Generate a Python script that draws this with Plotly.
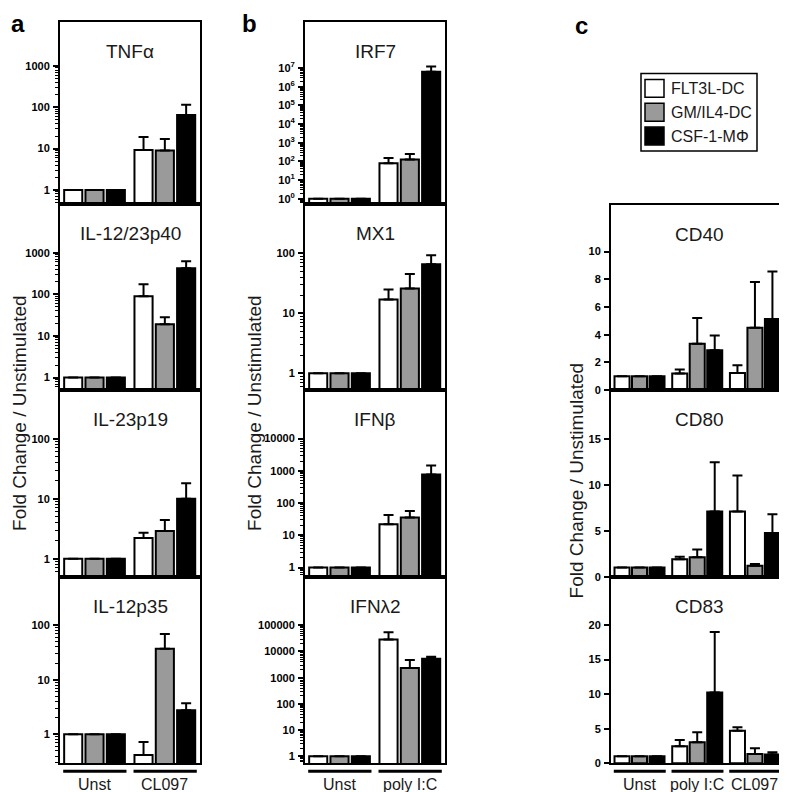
import math
import plotly.graph_objects as go

# ---------------- data ----------------
cell_types = ["FLT3L-DC", "GM/IL4-DC", "CSF-1-M\u03a6"]
cell_colors = ["white", "#9a9a9a", "black"]

groups_a = ["Unst", "CL097"]
groups_b = ["Unst", "poly I:C"]
groups_c = ["Unst", "poly I:C", "CL097"]

# bar positions (3 bars per group)
x_ab = [0, 1, 2, 3.3, 4.3, 5.3]
x_c = [0, 1, 2, 3.3, 4.3, 5.3, 6.6, 7.6, 8.6]

# panel a (mean, upper error-bar end)
tnfa_mean = [1, 1, 1, 9.3, 9.0, 65]
tnfa_upper = [1, 1, 1, 19, 17, 115]
il1223p40_mean = [1, 1, 1, 90, 19, 420]
il1223p40_upper = [1, 1, 1, 175, 28, 620]
il23p19_mean = [1, 1, 1, 2.2, 2.9, 10]
il23p19_upper = [1, 1, 1, 2.7, 4.4, 18]
il12p35_mean = [1, 1, 1, 0.42, 37, 2.75]
il12p35_upper = [1, 1, 1, 0.72, 69, 3.7]

# panel b
irf7_mean = [1, 1, 1, 80, 125, 6.2e6]
irf7_upper = [1, 1, 1, 150, 250, 1.2e7]
mx1_mean = [1, 1, 1, 17, 26, 66]
mx1_upper = [1, 1, 1, 25, 45, 93]
ifnb_mean = [1, 1, 1, 22, 36, 770]
ifnb_upper = [1, 1, 1, 43, 57, 1470]
ifnl2_mean = [1, 1, 1, 29000, 2350, 5300]
ifnl2_upper = [1, 1, 1, 54000, 4700, 6300]

# panel c
cd40_mean = [1, 1, 1, 1.2, 3.35, 2.87, 1.24, 4.5, 5.14]
cd40_upper = [1, 1, 1, 1.48, 5.2, 3.95, 1.8, 7.8, 8.56]
cd80_mean = [1, 1, 1, 1.9, 2.1, 7.1, 7.1, 1.19, 4.75]
cd80_upper = [1, 1, 1, 2.16, 2.95, 12.45, 11.0, 1.37, 6.8]
cd83_mean = [1, 1, 1, 2.45, 3.03, 10.24, 4.71, 1.35, 1.25]
cd83_upper = [1, 1, 1, 3.37, 4.47, 19.0, 5.19, 2.16, 1.59]

# tick labels
log_ticks_3 = [1, 10, 100, 1000]
log_ticks_2 = [1, 10, 100]
log_ticks_4 = [1, 10, 100, 1000, 10000]
log_ticks_5 = [1, 10, 100, 1000, 10000, 100000]
irf7_ticks = [10 ** k for k in range(8)]
irf7_ticktext = ["10<sup>%d</sup>" % k for k in range(8)]
cd40_ticks = [0, 2, 4, 6, 8, 10]
cd80_ticks = [0, 5, 10, 15]
cd83_ticks = [0, 5, 10, 15, 20]

# ---------------- layout helpers ----------------
W, H = 787, 792
FONT = "Liberation Sans, Arial, sans-serif"


def px_x(p):
    return p / W


def px_y(p):
    return 1 - p / H


col_a = (52, 192)
col_b = (297, 437)
col_c = (603, 780)
rows4 = [(14, 197), (197, 385), (385, 573), (573, 761)]
rows3 = [(198, 385), (385, 573), (573, 761)]

panels = [
    # title, xcol, row, xpos, mean, upper, type, range, tickvals, ticktext
    ("TNF\u03b1", col_a, rows4[0], x_ab, tnfa_mean, tnfa_upper, "log", [-0.33, 4.07], log_ticks_3, None),
    ("IL-12/23p40", col_a, rows4[1], x_ab, il1223p40_mean, il1223p40_upper, "log", [-0.30, 4.18], log_ticks_3, None),
    ("IL-23p19", col_a, rows4[2], x_ab, il23p19_mean, il23p19_upper, "log", [-0.30, 2.81], log_ticks_2, None),
    ("IL-12p35", col_a, rows4[3], x_ab, il12p35_mean, il12p35_upper, "log", [-0.53, 2.89], log_ticks_2, None),
    ("IRF7", col_b, rows4[0], x_ab, irf7_mean, irf7_upper, "log", [-0.26, 9.47], irf7_ticks, irf7_ticktext),
    ("MX1", col_b, rows4[1], x_ab, mx1_mean, mx1_upper, "log", [-0.28, 2.83], log_ticks_2, None),
    ("IFN\u03b2", col_b, rows4[2], x_ab, ifnb_mean, ifnb_upper, "log", [-0.28, 5.5], log_ticks_4, None),
    ("IFN\u03bb2", col_b, rows4[3], x_ab, ifnl2_mean, ifnl2_upper, "log", [-0.27, 6.86], log_ticks_5, None),
    ("CD40", col_c, rows3[0], x_c, cd40_mean, cd40_upper, "linear", [0, 13.4], cd40_ticks, None),
    ("CD80", col_c, rows3[1], x_c, cd80_mean, cd80_upper, "linear", [0, 20.3], cd80_ticks, None),
    ("CD83", col_c, rows3[2], x_c, cd83_mean, cd83_upper, "linear", [0, 27.0], cd83_ticks, None),
]

fig = go.Figure()
layout = dict(
    width=W, height=H,
    margin=dict(l=0, r=0, t=0, b=0),
    paper_bgcolor="white", plot_bgcolor="white",
    showlegend=False,
    font=dict(family=FONT, color="black"),
)
annotations = []
shapes = []

for i, (title, xcol, row, xpos, mean, upper, atype, yr, tv, tt) in enumerate(panels):
    n = i + 1
    xa = "xaxis" if n == 1 else "xaxis%d" % n
    ya = "yaxis" if n == 1 else "yaxis%d" % n
    xr = "x" if n == 1 else "x%d" % n
    yr_ = "y" if n == 1 else "y%d" % n
    ncol = len(xpos)
    colors = [cell_colors[k % 3] for k in range(ncol)]
    err = [u - m for u, m in zip(upper, mean)]
    bw = 0.85 if ncol == 6 else 0.86
    fig.add_trace(go.Bar(
        x=xpos, y=mean, width=bw,
        marker=dict(color=colors, line=dict(color="black", width=2)),
        error_y=dict(type="data", symmetric=False, array=err, arrayminus=[0] * ncol,
                     thickness=2, width=5, color="black"),
        xaxis=xr, yaxis=yr_, hoverinfo="skip",
    ))
    if ncol == 6:
        xrange = [-0.62, 5.95]
    else:
        xrange = [-0.63, 9.49]
    layout[xa] = dict(
        domain=[px_x(xcol[0]), px_x(xcol[1])], anchor=yr_, range=xrange,
        showline=True, mirror=True, linewidth=2, linecolor="black",
        showticklabels=False, ticks="", showgrid=False, zeroline=False,
    )
    yaxis = dict(
        domain=[px_y(row[1]), px_y(row[0])], anchor=xr, type=atype, range=yr,
        showline=True, mirror=True, linewidth=2, linecolor="black",
        showgrid=False, zeroline=False,
        ticks="outside", ticklen=5, tickwidth=1.5, tickcolor="black",
        tickmode="array",
        tickvals=tv, ticktext=tt if tt is not None else [str(v) for v in tv],
        tickfont=dict(family=FONT, size=11, color="black", weight="bold"),
        ticklabelstandoff=1,
    )
    if atype == "log":
        minor_vals = []
        lo = int(math.floor(yr[0]))
        top_major = max(tv)
        for d in range(lo, 12):
            for k in range(2, 10):
                v = k * 10.0 ** d
                if math.log10(v) > yr[0] and v < top_major:
                    minor_vals.append(v)
        yaxis["minor"] = dict(tickmode="array", tickvals=minor_vals, ticks="outside",
                              ticklen=3, tickwidth=1, tickcolor="black", showgrid=False)
    layout[ya] = yaxis
    # panel title
    xc = (xcol[0] + xcol[1]) / 2
    annotations.append(dict(
        x=px_x(xc), y=px_y(row[0] + 30), xref="paper", yref="paper",
        text=title, showarrow=False, xanchor="center", yanchor="middle",
        font=dict(family=FONT, size=19, color="#1a1a1a"),
    ))

# group lines and labels under bottom panels
bottom = [(4, x_ab, groups_a), (8, x_ab, groups_b), (11, x_c, groups_c)]
for n, xpos, groups in bottom:
    xr = "x%d" % n
    for g, name in enumerate(groups):
        xs = xpos[3 * g: 3 * g + 3]
        shapes.append(dict(type="line", xref=xr, yref="paper",
                           x0=xs[0] - 0.47, x1=xs[-1] + 0.5,
                           y0=px_y(769), y1=px_y(769),
                           line=dict(color="black", width=3)))
        annotations.append(dict(
            x=(xs[0] + xs[-1]) / 2, y=px_y(782), xref=xr, yref="paper",
            text=name, showarrow=False, xanchor="center", yanchor="middle",
            font=dict(family=FONT, size=16, color="#1a1a1a"),
        ))

# y-axis titles
for xc, yc in [(12, 408), (247, 408), (568, 476)]:
    annotations.append(dict(
        x=px_x(xc), y=px_y(yc), xref="paper", yref="paper",
        text="Fold Change / Unstimulated", textangle=-90, showarrow=False,
        xanchor="center", yanchor="middle",
        font=dict(family=FONT, size=19, color="#1a1a1a"),
    ))

# panel letters
for letter, xc, yc in [("a", 10, 16), ("b", 242, 16), ("c", 573, 18)]:
    annotations.append(dict(
        x=px_x(xc), y=px_y(yc), xref="paper", yref="paper",
        text="<b>%s</b>" % letter, showarrow=False,
        xanchor="center", yanchor="middle",
        font=dict(family=FONT, size=24, color="black"),
    ))

# legend box
shapes.append(dict(type="rect", xref="paper", yref="paper",
                   x0=px_x(633), x1=px_x(749), y0=px_y(144), y1=px_y(66),
                   line=dict(color="black", width=1.5), fillcolor="white"))
for k, (name, col) in enumerate(zip(cell_types, cell_colors)):
    yc = 81 + 24 * k
    shapes.append(dict(type="rect", xref="paper", yref="paper",
                       x0=px_x(637), x1=px_x(656), y0=px_y(yc + 9), y1=px_y(yc - 9),
                       line=dict(color="black", width=1.5), fillcolor=col))
    annotations.append(dict(
        x=px_x(661), y=px_y(yc), xref="paper", yref="paper",
        text=name, showarrow=False, xanchor="left", yanchor="middle",
        font=dict(family=FONT, size=16, color="#1a1a1a"),
    ))

layout["annotations"] = annotations
layout["shapes"] = shapes
fig.update_layout(**layout)
fig.write_html("out.html")
